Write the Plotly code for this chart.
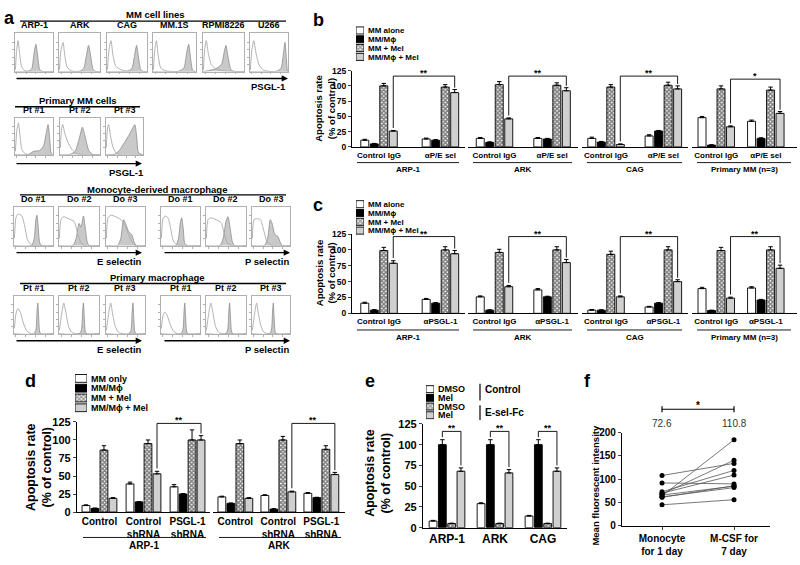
import plotly.graph_objects as go

W, H = 800, 565
FONT = "Liberation Sans"

# ---------------- Panel a : flow cytometry histograms ----------------
# each curve is a list of (position on log axis 0-1, relative count 0-1)
MM_LINES = ["ARP-1", "ARK", "CAG", "MM.1S", "RPMI8226", "U266"]
MM_LINES_ISO = [
    [(0.01, 0.05), (0.04, 0.55), (0.08, 0.85), (0.12, 0.5), (0.17, 0.15), (0.25, 0.03), (0.45, 0.0), (1.0, 0.0)],
    [(0.01, 0.05), (0.05, 0.6), (0.1, 0.8), (0.14, 0.45), (0.2, 0.12), (0.3, 0.02), (0.5, 0.0), (1.0, 0.0)],
    [(0.01, 0.05), (0.05, 0.6), (0.1, 0.85), (0.15, 0.45), (0.22, 0.15), (0.35, 0.05), (0.55, 0.0), (1.0, 0.0)],
    [(0.01, 0.05), (0.04, 0.6), (0.08, 0.85), (0.12, 0.45), (0.18, 0.1), (0.3, 0.02), (0.5, 0.0), (1.0, 0.0)],
    [(0.01, 0.05), (0.04, 0.6), (0.08, 0.85), (0.13, 0.5), (0.2, 0.2), (0.3, 0.08), (0.5, 0.02), (1.0, 0.0)],
    [(0.01, 0.05), (0.05, 0.6), (0.1, 0.85), (0.16, 0.5), (0.24, 0.18), (0.35, 0.04), (0.55, 0.0), (1.0, 0.0)],
]
MM_LINES_PSGL1 = [
    [(0.0, 0.0), (0.35, 0.01), (0.44, 0.08), (0.5, 0.5), (0.55, 0.75), (0.6, 0.4), (0.65, 0.06), (0.72, 0.0), (1.0, 0.0)],
    [(0.0, 0.0), (0.5, 0.01), (0.6, 0.08), (0.67, 0.45), (0.72, 0.72), (0.77, 0.45), (0.83, 0.06), (0.9, 0.0), (1.0, 0.0)],
    [(0.0, 0.0), (0.5, 0.01), (0.62, 0.08), (0.69, 0.45), (0.74, 0.72), (0.78, 0.45), (0.84, 0.06), (0.9, 0.0), (1.0, 0.0)],
    [(0.0, 0.0), (0.6, 0.01), (0.72, 0.1), (0.78, 0.5), (0.83, 0.75), (0.87, 0.4), (0.92, 0.04), (0.97, 0.0), (1.0, 0.0)],
    [(0.0, 0.0), (0.1, 0.02), (0.3, 0.07), (0.45, 0.2), (0.52, 0.55), (0.56, 0.72), (0.61, 0.4), (0.68, 0.06), (0.76, 0.0), (1.0, 0.0)],
    [(0.0, 0.0), (0.7, 0.01), (0.82, 0.1), (0.88, 0.5), (0.92, 0.8), (0.95, 0.45), (0.98, 0.05), (1.0, 0.0)],
]
PRIMARY_MM = ["Pt #1", "Pt #2", "Pt #3"]
PRIMARY_MM_ISO = [
    [(0.01, 0.1), (0.05, 0.7), (0.09, 0.9), (0.13, 0.55), (0.18, 0.15), (0.28, 0.02), (0.5, 0.0), (1.0, 0.0)],
    [(0.01, 0.2), (0.04, 0.75), (0.07, 0.85), (0.12, 0.6), (0.2, 0.35), (0.3, 0.15), (0.42, 0.03), (0.6, 0.0), (1.0, 0.0)],
    [(0.01, 0.2), (0.04, 0.75), (0.07, 0.85), (0.12, 0.55), (0.18, 0.25), (0.27, 0.05), (0.4, 0.0), (1.0, 0.0)],
]
PRIMARY_MM_PSGL1 = [
    [(0.0, 0.0), (0.35, 0.01), (0.5, 0.1), (0.65, 0.12), (0.75, 0.25), (0.82, 0.6), (0.87, 0.85), (0.91, 0.5), (0.95, 0.05), (1.0, 0.0)],
    [(0.0, 0.0), (0.25, 0.01), (0.38, 0.1), (0.48, 0.45), (0.56, 0.78), (0.63, 0.5), (0.72, 0.12), (0.82, 0.01), (1.0, 0.0)],
    [(0.0, 0.0), (0.25, 0.02), (0.38, 0.15), (0.5, 0.35), (0.62, 0.55), (0.72, 0.75), (0.78, 0.85), (0.83, 0.5), (0.88, 0.05), (1.0, 0.0)],
]
MONO_DONORS = ["Do #1", "Do #2", "Do #3"]
MONO_E_ISO = [
    [(0.01, 0.2), (0.05, 0.75), (0.1, 0.85), (0.2, 0.8), (0.28, 0.5), (0.35, 0.15), (0.45, 0.02), (0.6, 0.0), (1.0, 0.0)],
    [(0.01, 0.2), (0.05, 0.7), (0.12, 0.78), (0.25, 0.72), (0.38, 0.65), (0.46, 0.35), (0.55, 0.08), (0.65, 0.0), (1.0, 0.0)],
    [(0.01, 0.2), (0.05, 0.75), (0.12, 0.82), (0.25, 0.78), (0.38, 0.7), (0.46, 0.6), (0.58, 0.3), (0.7, 0.05), (0.8, 0.0), (1.0, 0.0)],
]
MONO_E_POS = [
    [(0.0, 0.0), (0.45, 0.01), (0.52, 0.2), (0.56, 0.7), (0.59, 0.82), (0.62, 0.5), (0.66, 0.08), (0.72, 0.0), (1.0, 0.0)],
    [(0.0, 0.0), (0.35, 0.01), (0.43, 0.2), (0.5, 0.6), (0.55, 0.5), (0.61, 0.8), (0.66, 0.45), (0.72, 0.05), (0.8, 0.0), (1.0, 0.0)],
    [(0.0, 0.0), (0.3, 0.01), (0.38, 0.2), (0.45, 0.7), (0.5, 0.6), (0.58, 0.38), (0.66, 0.3), (0.72, 0.1), (0.78, 0.0), (1.0, 0.0)],
]
MONO_P_ISO = [
    [(0.01, 0.2), (0.05, 0.72), (0.1, 0.8), (0.18, 0.75), (0.25, 0.45), (0.32, 0.12), (0.42, 0.02), (0.6, 0.0), (1.0, 0.0)],
    [(0.01, 0.2), (0.05, 0.7), (0.12, 0.75), (0.25, 0.7), (0.38, 0.62), (0.46, 0.3), (0.55, 0.05), (0.65, 0.0), (1.0, 0.0)],
    [(0.01, 0.2), (0.05, 0.7), (0.12, 0.73), (0.22, 0.7), (0.3, 0.45), (0.38, 0.15), (0.48, 0.03), (0.6, 0.0), (1.0, 0.0)],
]
MONO_P_POS = [
    [(0.0, 0.0), (0.38, 0.01), (0.45, 0.2), (0.5, 0.65), (0.53, 0.75), (0.57, 0.45), (0.61, 0.06), (0.68, 0.0), (1.0, 0.0)],
    [(0.0, 0.0), (0.35, 0.01), (0.43, 0.2), (0.5, 0.65), (0.55, 0.78), (0.6, 0.5), (0.66, 0.1), (0.72, 0.0), (1.0, 0.0)],
    [(0.0, 0.0), (0.33, 0.01), (0.42, 0.25), (0.48, 0.7), (0.53, 0.6), (0.6, 0.3), (0.68, 0.25), (0.74, 0.1), (0.8, 0.0), (1.0, 0.0)],
]
PRIM_MAC = ["Pt #1", "Pt #2", "Pt #3"]
PMAC_E_ISO = [
    [(0.01, 0.15), (0.05, 0.55), (0.1, 0.7), (0.16, 0.6), (0.24, 0.3), (0.33, 0.08), (0.45, 0.0), (1.0, 0.0)],
    [(0.01, 0.1), (0.06, 0.5), (0.12, 0.85), (0.17, 0.6), (0.24, 0.2), (0.32, 0.04), (0.45, 0.0), (1.0, 0.0)],
    [(0.01, 0.1), (0.06, 0.5), (0.12, 0.85), (0.17, 0.55), (0.24, 0.2), (0.32, 0.04), (0.45, 0.0), (1.0, 0.0)],
]
PMAC_E_POS = [
    [(0.0, 0.0), (0.5, 0.0), (0.56, 0.1), (0.59, 0.6), (0.61, 0.85), (0.63, 0.5), (0.66, 0.05), (0.7, 0.0), (1.0, 0.0)],
    [(0.0, 0.0), (0.5, 0.0), (0.56, 0.1), (0.59, 0.6), (0.61, 0.85), (0.63, 0.5), (0.66, 0.05), (0.7, 0.0), (1.0, 0.0)],
    [(0.0, 0.0), (0.58, 0.0), (0.64, 0.1), (0.67, 0.6), (0.69, 0.85), (0.71, 0.5), (0.74, 0.05), (0.78, 0.0), (1.0, 0.0)],
]
PMAC_P_ISO = [
    [(0.01, 0.15), (0.05, 0.5), (0.1, 0.6), (0.16, 0.5), (0.24, 0.25), (0.33, 0.06), (0.45, 0.0), (1.0, 0.0)],
    [(0.01, 0.1), (0.06, 0.5), (0.12, 0.85), (0.17, 0.6), (0.24, 0.2), (0.32, 0.04), (0.45, 0.0), (1.0, 0.0)],
    [(0.01, 0.1), (0.06, 0.5), (0.12, 0.85), (0.17, 0.55), (0.24, 0.2), (0.32, 0.04), (0.45, 0.0), (1.0, 0.0)],
]
PMAC_P_POS = [
    [(0.0, 0.0), (0.5, 0.0), (0.56, 0.1), (0.59, 0.6), (0.61, 0.85), (0.63, 0.5), (0.66, 0.05), (0.7, 0.0), (1.0, 0.0)],
    [(0.0, 0.0), (0.48, 0.0), (0.54, 0.1), (0.57, 0.6), (0.59, 0.85), (0.61, 0.5), (0.64, 0.05), (0.68, 0.0), (1.0, 0.0)],
    [(0.0, 0.0), (0.45, 0.0), (0.51, 0.1), (0.54, 0.6), (0.56, 0.85), (0.58, 0.5), (0.61, 0.05), (0.65, 0.0), (1.0, 0.0)],
]

# ---------------- Panel b ----------------
BC_LEGEND = ["MM alone", "MM/Mϕ", "MM + Mel", "MM/Mϕ + Mel"]
B_GROUPS = ["ARP-1", "ARK", "CAG", "Primary MM (n=3)"]
B_TREATMENTS = ["Control IgG", "αP/E sel"]
B_MM_ALONE = [[11, 13], [14, 14], [14, 18], [48, 42]]
B_MM_MAC = [[5, 11], [7.5, 13], [8, 26], [3, 14]]
B_MM_MEL = [[100, 98], [102, 101], [98, 101], [95, 93]]
B_MM_MAC_MEL = [[26, 89], [46, 92], [4, 95], [33, 55]]
B_ERR_MM_ALONE = [[1.5, 1.5], [1.5, 1.5], [2, 2], [2, 2]]
B_ERR_MM_MAC = [[0.8, 1], [0.8, 1], [1, 1], [0.5, 1]]
B_ERR_MM_MEL = [[4, 4], [5, 4], [4, 5], [5, 5]]
B_ERR_MM_MAC_MEL = [[1, 5], [1.5, 5], [1, 5], [1.5, 3]]
B_SIG = ["**", "**", "**", "*"]

# ---------------- Panel c ----------------
C_GROUPS = ["ARP-1", "ARK", "CAG", "Primary MM (n=3)"]
C_TREATMENTS = ["Control IgG", "αPSGL-1"]
C_MM_ALONE = [[16, 22], [26, 37], [5, 10], [39, 40]]
C_MM_MAC = [[5, 16], [5, 26], [5, 16], [4.5, 21]]
C_MM_MEL = [[99, 100], [96, 100], [93, 100], [99, 100]]
C_MM_MAC_MEL = [[79, 94], [42, 80], [26, 50], [24, 71]]
C_ERR_MM_ALONE = [[1.5, 1.5], [1.5, 2], [1, 1], [2, 2]]
C_ERR_MM_MAC = [[0.8, 1], [0.5, 1], [0.5, 1], [0.5, 1]]
C_ERR_MM_MEL = [[5, 5], [5, 5], [5, 5], [5, 5]]
C_ERR_MM_MAC_MEL = [[4, 5], [2, 5], [1.5, 3], [1.5, 5]]
C_SIG = ["**", "**", "**", "**"]

# ---------------- Panel d ----------------
D_LEGEND = ["MM only", "MM/Mϕ", "MM + Mel", "MM/Mϕ + Mel"]
D_GROUPS = ["ARP-1", "ARK"]
D_TREATMENTS = ["Control", "Control<br>shRNA", "PSGL-1<br>shRNA"]
D_MM_ONLY = [[9, 39, 35], [21, 23, 26]]
D_MM_MAC = [[5, 14, 25], [12, 4, 20]]
D_MM_MEL = [[86, 95, 100], [95, 100, 87]]
D_MM_MAC_MEL = [[19, 53, 100], [19, 28, 52]]
D_ERR_MM_ONLY = [[1, 2.5, 3], [1, 1, 1]]
D_ERR_MM_MAC = [[0.5, 0.5, 0.5], [0.5, 0.5, 0.5]]
D_ERR_MM_MEL = [[6, 5, 14], [5, 5, 5]]
D_ERR_MM_MAC_MEL = [[1, 3.5, 6], [1, 1, 3]]
D_SIG = ["**", "**"]

# ---------------- Panel e ----------------
E_LEGEND = ["DMSO", "Mel", "DMSO", "Mel"]
E_LEGEND_GROUPS = ["Control", "E-sel-Fc"]
E_CELLS = ["ARP-1", "ARK", "CAG"]
E_CTRL_DMSO = [8, 29, 14]
E_CTRL_MEL = [100, 100, 100]
E_ESEL_DMSO = [5, 5, 5]
E_ESEL_MEL = [68, 66, 68]
E_ERR_CTRL_DMSO = [0.8, 1, 0.8]
E_ERR_CTRL_MEL = [6, 6, 6]
E_ERR_ESEL_DMSO = [0.5, 0.5, 0.5]
E_ERR_ESEL_MEL = [4, 4, 4]
E_SIG = ["**", "**", "**"]

# ---------------- Panel f ----------------
F_CONDITIONS = ["Monocyte<br>for 1 day", "M-CSF for<br>7 day"]
F_DAY1 = [108, 92, 73, 70, 68, 66, 64, 62, 61, 45]
F_DAY7 = [134, 90, 119, 109, 141, 85, 185, 82, 86, 56]
F_MEANS = ["72.6", "110.8"]
F_SIG = "*"

# =====================================================================
fig = go.Figure()
axes_layout = {}
shapes = []
annotations = []
n_axes = [0]


def X(p):
    return p / W


def Y(p):
    return 1 - p / H


def new_axes(x0, x1, y0, y1, xkw, ykw):
    n_axes[0] += 1
    k = n_axes[0]
    s = "" if k == 1 else str(k)
    axes_layout["xaxis" + s] = dict(domain=[X(x0), X(x1)], anchor="y" + s, **xkw)
    axes_layout["yaxis" + s] = dict(domain=[Y(y1), Y(y0)], anchor="x" + s, **ykw)
    return "x" + s, "y" + s


def text(x, y, s, size=9, bold=True, xanchor="center", yanchor="middle", angle=0, color="black"):
    annotations.append(dict(x=X(x), y=Y(y), xref="paper", yref="paper",
                            text=("<b>%s</b>" % s) if bold else s, showarrow=False,
                            xanchor=xanchor, yanchor=yanchor, textangle=angle,
                            font=dict(family=FONT, size=size, color=color)))


def line(x0, y0, x1, y1, width=1.2, color="black"):
    shapes.append(dict(type="line", xref="paper", yref="paper", x0=X(x0), x1=X(x1),
                       y0=Y(y0), y1=Y(y1), line=dict(color=color, width=width)))


def arrow(x0, x1, y):
    annotations.append(dict(x=X(x1), y=Y(y), xref="paper", yref="paper", ax=-(x1 - x0), ay=0,
                            axref="pixel", ayref="pixel", showarrow=True, arrowhead=2,
                            arrowsize=0.9, arrowwidth=1.4, arrowcolor="black", text=""))


def font(size, bold=True):
    d = dict(family=FONT, size=size, color="black")
    if bold:
        d["weight"] = "bold"
    return d


# ---------------- panel a drawing ----------------
HX = dict(range=[0, 1], showgrid=False, zeroline=False, showline=True, mirror=True,
          linecolor="#b0b0b0", linewidth=0.8, ticks="outside", ticklen=2, tickcolor="#b0b0b0",
          tickvals=[0.05, 0.3, 0.55, 0.8], showticklabels=False, fixedrange=True)
HY = dict(range=[0, 1.05], showgrid=False, zeroline=False, showline=True, mirror=True,
          linecolor="#b0b0b0", linewidth=0.8, ticks="outside", ticklen=2, tickcolor="#b0b0b0",
          tickvals=[0.2, 0.4, 0.6, 0.8], showticklabels=False, fixedrange=True)


def hist_box(x0, x1, y0, y1, title, iso, pos):
    xa, ya = new_axes(x0, x1, y0, y1, HX, HY)
    fig.add_scatter(x=[p[0] for p in pos], y=[p[1] for p in pos], xaxis=xa, yaxis=ya, mode="lines",
                    fill="tozeroy", fillcolor="#c9c9c9",
                    line=dict(color="#8c8c8c", width=0.8, shape="spline", smoothing=0.6),
                    hoverinfo="skip", showlegend=False)
    fig.add_scatter(x=[p[0] for p in iso], y=[p[1] for p in iso], xaxis=xa, yaxis=ya, mode="lines",
                    line=dict(color="#a8a8a8", width=0.9, shape="spline", smoothing=0.6),
                    hoverinfo="skip", showlegend=False)
    text((x0 + x1) / 2, y0 - 1, title, size=9, yanchor="bottom")


text(9, 12, "a", size=18)
# row 1 : MM cell lines
text(155, 9, "MM cell lines", size=9.5)
line(20, 15.5, 286, 15.5, width=1.4)
ROW1_X = [(15, 53), (59, 100), (107, 147), (153, 196), (203, 244), (250, 288)]
for (x0, x1), t, iso, pos in zip(ROW1_X, MM_LINES, MM_LINES_ISO, MM_LINES_PSGL1):
    hist_box(x0, x1, 28, 67, t, iso, pos)
arrow(15, 288, 74)
text(288, 82, "PSGL-1", size=9.5, xanchor="right")

# row 2 : primary MM cells
text(78, 97, "Primary MM cells", size=9.5)
line(15, 103, 140, 103, width=1.4)
ROW2_X = [(15, 53), (60, 100), (106, 143)]
for (x0, x1), t, iso, pos in zip(ROW2_X, PRIMARY_MM, PRIMARY_MM_ISO, PRIMARY_MM_PSGL1):
    hist_box(x0, x1, 114, 152, t, iso, pos)
arrow(15, 142, 161)
text(126, 170, "PSGL-1", size=9.5)

# row 3 : monocyte-derived macrophage
ROW34_XL = [(14, 53), (59, 99), (106, 145)]
ROW34_XR = [(161, 200), (206, 246), (252, 290)]
text(157, 187, "Monocyte-derived macrophage", size=9.5)
line(20, 193, 286, 193, width=1.4)
for (x0, x1), t, iso, pos in zip(ROW34_XL, MONO_DONORS, MONO_E_ISO, MONO_E_POS):
    hist_box(x0, x1, 205, 245, t, iso, pos)
for (x0, x1), t, iso, pos in zip(ROW34_XR, MONO_DONORS, MONO_P_ISO, MONO_P_POS):
    hist_box(x0, x1, 205, 245, t, iso, pos)
arrow(15, 142, 252)
arrow(163, 290, 252)
text(144, 261, "E selectin", size=9.5, xanchor="right")
text(291, 261, "P selectin", size=9.5, xanchor="right")

# row 4 : primary macrophage
text(157, 277, "Primary macrophage", size=9.5)
line(20, 283.5, 286, 283.5, width=1.4)
for (x0, x1), t, iso, pos in zip(ROW34_XL, PRIM_MAC, PMAC_E_ISO, PMAC_E_POS):
    hist_box(x0, x1, 296, 335, t, iso, pos)
for (x0, x1), t, iso, pos in zip(ROW34_XR, PRIM_MAC, PMAC_P_ISO, PMAC_P_POS):
    hist_box(x0, x1, 296, 335, t, iso, pos)
arrow(15, 142, 342)
arrow(163, 290, 342)
text(144, 351, "E selectin", size=9.5, xanchor="right")
text(291, 351, "P selectin", size=9.5, xanchor="right")

# ---------------- bar helpers ----------------
FILLS = ["white", "black", "white", "#d0d0d0"]
SHAPES = ["", "", "x", ""]
CHECKER = dict(fgcolor="black", bgcolor="white", size=3, solidity=0.75)


def bar_marker(i):
    m = dict(color=FILLS[i], line=dict(color="black", width=0.9))
    if SHAPES[i]:
        m["pattern"] = dict(shape=SHAPES[i], **CHECKER)
    return m


def legend_block(x0, x1, y0, y1, labels, size):
    xa, ya = new_axes(x0, x1, y0, y1, dict(range=[0, 1], visible=False, fixedrange=True),
                      dict(range=[len(labels) - 0.5, -0.5], side="right", showline=False, ticks="",
                           showgrid=False, zeroline=False, tickvals=list(range(len(labels))),
                           ticktext=labels, tickfont=font(size), ticklabelstandoff=3, fixedrange=True))
    fig.add_bar(x=[1] * len(labels), y=list(range(len(labels))), orientation="h", xaxis=xa, yaxis=ya,
                width=0.8, offset=-0.4,
                marker=dict(color=FILLS, line=dict(color="black", width=0.9),
                            pattern=dict(shape=SHAPES, **CHECKER)),
                hoverinfo="skip", showlegend=False)


def bar_panel(segments, xranges, top, bot, cats, series, errors, pitch_px, bar_px, xfont, yfont, ymax, yticks):
    out = []
    for g, ((x0, x1), xr) in enumerate(zip(segments, xranges)):
        unit = (x1 - x0) / (xr[1] - xr[0])
        pitch = pitch_px / unit
        bw = bar_px / unit
        xa, ya = new_axes(
            x0, x1, top, bot,
            dict(type="category", range=xr, showline=True, linecolor="black", linewidth=1.2,
                 ticks="", showgrid=False, zeroline=False, tickfont=xfont, fixedrange=True),
            dict(range=[0, ymax], tickvals=yticks, visible=(g == 0), showline=True, linecolor="black",
                 linewidth=1.2, ticks="outside", ticklen=3, tickwidth=1.2, showgrid=False,
                 zeroline=False, tickfont=yfont, fixedrange=True))
        for i, (vals, errs) in enumerate(zip(series, errors)):
            fig.add_bar(x=cats, y=vals[g], xaxis=xa, yaxis=ya, width=bw,
                        offset=-2 * pitch + i * pitch + (pitch - bw) / 2,
                        marker=bar_marker(i),
                        error_y=dict(type="data", array=errs[g], arrayminus=[0] * len(errs[g]),
                                     symmetric=False, color="black", thickness=1, width=2.2),
                        hoverinfo="skip", showlegend=False)
        out.append((xa, ya, pitch))
    return out


def bracket(xa, ya, xl, xr, yl, yr, level, label, size):
    for a, b, c, d in [(xl, yl, xl, level), (xl, level, xr, level), (xr, level, xr, yr)]:
        shapes.append(dict(type="line", xref=xa, yref=ya, x0=a, y0=b, x1=c, y1=d,
                           line=dict(color="black", width=0.9)))
    annotations.append(dict(x=(xl + xr) / 2, y=level, xref=xa, yref=ya, text="<b>%s</b>" % label,
                            showarrow=False, yanchor="bottom", yshift=-4,
                            font=dict(family=FONT, size=size, color="black")))


YT125 = [0, 25, 50, 75, 100, 125]

# ---------------- panel b ----------------
text(318, 14, "b", size=18)
legend_block(356, 364, 20.5, 56.5, BC_LEGEND, 8)
BC_SEGS = [(352, 465), (468, 578), (582, 688), (692, 797)]
BC_RANGES = [[-0.44, 1.40], [-0.46, 1.45], [-0.42, 1.43], [-0.49, 1.63]]
b_axes = bar_panel(BC_SEGS, BC_RANGES, 66, 144, B_TREATMENTS,
                   [B_MM_ALONE, B_MM_MAC, B_MM_MEL, B_MM_MAC_MEL],
                   [B_ERR_MM_ALONE, B_ERR_MM_MAC, B_ERR_MM_MEL, B_ERR_MM_MAC_MEL],
                   9.5, 8, font(8), font(8.5), 125, YT125)
B_LEVELS = [116, 116, 116, 111]
for g, (xa, ya, p) in enumerate(b_axes):
    bracket(xa, ya, 0 + 1.5 * p, 1 + 1.5 * p,
            B_MM_MAC_MEL[g][0] + B_ERR_MM_MAC_MEL[g][0] + 4,
            B_MM_MAC_MEL[g][1] + B_ERR_MM_MAC_MEL[g][1] + 3,
            B_LEVELS[g], B_SIG[g], 9)
for (x0, x1), name in zip(BC_SEGS, B_GROUPS):
    line(x0 + 5, 160, x1 - 6, 160, width=0.9)
    text((x0 + x1) / 2, 167, name, size=8)
text(325, 105, "Apoptosis rate<br>(% of control)", size=9.5, angle=-90)

# ---------------- panel c ----------------
text(318, 203, "c", size=18)
legend_block(356, 364, 198, 234, BC_LEGEND, 8)
c_axes = bar_panel(BC_SEGS, BC_RANGES, 233, 314, C_TREATMENTS,
                   [C_MM_ALONE, C_MM_MAC, C_MM_MEL, C_MM_MAC_MEL],
                   [C_ERR_MM_ALONE, C_ERR_MM_MAC, C_ERR_MM_MEL, C_ERR_MM_MAC_MEL],
                   9.5, 8, font(8), font(8.5), 125, YT125)
for g, (xa, ya, p) in enumerate(c_axes):
    bracket(xa, ya, 0 + 1.5 * p, 1 + 1.5 * p,
            C_MM_MAC_MEL[g][0] + C_ERR_MM_MAC_MEL[g][0] + 4,
            C_MM_MAC_MEL[g][1] + C_ERR_MM_MAC_MEL[g][1] + 3,
            121, C_SIG[g], 9)
for (x0, x1), name in zip(BC_SEGS, C_GROUPS):
    line(x0 + 5, 331, x1 - 6, 331, width=0.9)
    text((x0 + x1) / 2, 339, name, size=8)
text(325, 273, "Apoptosis rate<br>(% of control)", size=9.5, angle=-90)

# ---------------- panel d ----------------
text(30, 383, "d", size=18)
legend_block(75, 87, 375.5, 415.5, D_LEGEND, 9)
D_SEGS = [(77, 210), (213, 345)]
D_RANGES = [[-0.51, 2.51], [-0.52, 2.55]]
d_axes = bar_panel(D_SEGS, D_RANGES, 425, 517, D_TREATMENTS,
                   [D_MM_ONLY, D_MM_MAC, D_MM_MEL, D_MM_MAC_MEL],
                   [D_ERR_MM_ONLY, D_ERR_MM_MAC, D_ERR_MM_MEL, D_ERR_MM_MAC_MEL],
                   9, 7.8, font(10), font(11), 125, YT125)
for g, (xa, ya, p) in enumerate(d_axes):
    bracket(xa, ya, 1 + 1.5 * p, 2 + 1.5 * p,
            D_MM_MAC_MEL[g][1] + D_ERR_MM_MAC_MEL[g][1] + 4,
            D_MM_MAC_MEL[g][2] + D_ERR_MM_MAC_MEL[g][2] + 3,
            123, D_SIG[g], 9)
for (x0, x1), name in zip(D_SEGS, D_GROUPS):
    line(x0 + 6, 543, x1 - 4, 543, width=0.9)
    text((x0 + x1) / 2, 551, name, size=10)
text(39, 471, "Apoptosis rate<br>(% of control)", size=12.5, angle=-90)

# ---------------- panel e ----------------
text(370, 383, "e", size=18)
legend_block(426, 434, 387, 422.6, E_LEGEND, 9)
line(480, 386, 480, 403, width=1.2)
line(480, 408, 480, 423, width=1.2)
text(483, 392, E_LEGEND_GROUPS[0], size=10, xanchor="left")
text(483, 415, E_LEGEND_GROUPS[1], size=10, xanchor="left")
e_axes = bar_panel([(423, 567)], [[-0.5, 2.5]], 427, 533, E_CELLS,
                   [[E_CTRL_DMSO], [E_CTRL_MEL], [E_ESEL_DMSO], [E_ESEL_MEL]],
                   [[E_ERR_CTRL_DMSO], [E_ERR_CTRL_MEL], [E_ERR_ESEL_DMSO], [E_ERR_ESEL_MEL]],
                   9.3, 7.8, font(12), font(11), 125, YT125)
xa, ya, ep = e_axes[0]
for k in range(len(E_CELLS)):
    bracket(xa, ya, k - 0.5 * ep, k + 1.5 * ep,
            E_CTRL_MEL[k] + E_ERR_CTRL_MEL[k] + 3,
            E_ESEL_MEL[k] + E_ERR_ESEL_MEL[k] + 3,
            116, E_SIG[k], 9)
text(378, 477, "Apoptosis rate<br>(% of control)", size=12.5, angle=-90)

# ---------------- panel f ----------------
text(587, 383, "f", size=18)
F_X0, F_X1 = 622, 770
F_RANGE = [-0.556, 1.5]
fxa, fya = new_axes(F_X0, F_X1, 436, 531,
                    dict(type="category", range=F_RANGE, showline=True, linecolor="black", linewidth=1.2,
                         ticks="outside", ticklen=3, tickwidth=1.2, showgrid=False, zeroline=False,
                         tickfont=font(10), fixedrange=True),
                    dict(range=[0, 200], tickvals=[0, 50, 100, 150, 200], showline=True,
                         linecolor="black", linewidth=1.2, ticks="outside", ticklen=3, tickwidth=1.2,
                         showgrid=False, zeroline=False, tickfont=font(10), fixedrange=True))
fx, fy = [], []
for a, b in zip(F_DAY1, F_DAY7):
    fx += [F_CONDITIONS[0], F_CONDITIONS[1], None]
    fy += [a, b, None]
fig.add_scatter(x=fx, y=fy, xaxis=fxa, yaxis=fya, mode="lines+markers",
                line=dict(color="#555555", width=0.8),
                marker=dict(color="black", size=5), hoverinfo="skip", showlegend=False)


def f_px(idx):
    return F_X0 + (idx - F_RANGE[0]) / (F_RANGE[1] - F_RANGE[0]) * (F_X1 - F_X0)


line(f_px(0), 412, f_px(1), 412, width=1.2)
line(f_px(0), 409, f_px(0), 415, width=1.2)
line(f_px(1), 409, f_px(1), 415, width=1.2)
text((f_px(0) + f_px(1)) / 2, 408, F_SIG, size=10)
text(f_px(0), 427, F_MEANS[0], size=10, bold=False, color="#333333")
text(f_px(1), 427, F_MEANS[1], size=10, bold=False, color="#333333")
text(596, 490, "Mean fluorescent intensity", size=9.5, angle=-90)

fig.update_layout(
    width=W, height=H, margin=dict(l=0, r=0, t=0, b=0), autosize=False,
    paper_bgcolor="white", plot_bgcolor="rgba(0,0,0,0)", showlegend=False,
    barmode="overlay", font=dict(family=FONT, size=9, color="black"),
    shapes=shapes, annotations=annotations, **axes_layout)

fig.write_html("out.html", config={"displayModeBar": False},
               post_script="document.body.style.margin='0';")
